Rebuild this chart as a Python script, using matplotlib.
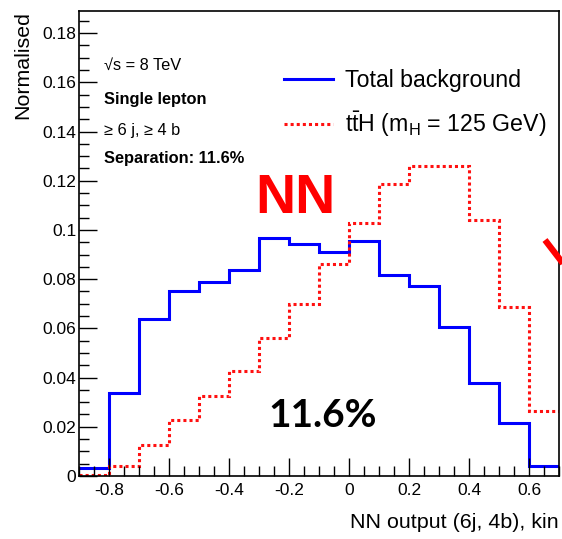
import matplotlib.pyplot as plt
import matplotlib.lines as mlines
import numpy as np

plt.rcParams["font.family"] = ["Liberation Sans", "DejaVu Sans"]
plt.rcParams["mathtext.fontset"] = "custom"
plt.rcParams["mathtext.rm"] = "Liberation Sans"
plt.rcParams["mathtext.it"] = "Liberation Sans:italic"

# ============================================================
# Data (bin edges and normalised contents)
# ============================================================
bin_edges = np.round(np.arange(-0.9, 0.71, 0.1), 2)
background = [0.0033, 0.0337, 0.0640, 0.0750, 0.0790, 0.0837, 0.0967, 0.0943,
              0.0910, 0.0955, 0.0817, 0.0772, 0.0606, 0.0378, 0.0215, 0.0041]
tth = [0.0004, 0.0040, 0.0126, 0.0228, 0.0325, 0.0427, 0.0561, 0.0700,
       0.0862, 0.1028, 0.1187, 0.1260, 0.1260, 0.1040, 0.0687, 0.0264]

labels = ["Total background", r"t$\bar{\mathrm{t}}$H (m$_{\mathrm{H}}$ = 125 GeV)"]
info_lines = ["√s = 8 TeV", "Single lepton", "≥ 6 j, ≥ 4 b", "Separation: 11.6%"]

fig = plt.figure(figsize=(5.62, 5.39), dpi=100)
ax = fig.add_axes([79 / 562, 1 - 476 / 539, 480 / 562, 465 / 539])

ax.stairs(background, bin_edges, baseline=None, color="#0000ff", linewidth=2.2,
          label=labels[0])
ax.stairs(tth, bin_edges, baseline=None, color="#ff1010", linewidth=2.2,
          linestyle=(0, (1, 1)), label=labels[1])

ax.set_xlim(-0.9, 0.7)
ax.set_ylim(0, 0.189)
ax.set_xticks(np.round(np.arange(-0.8, 0.61, 0.2), 1))
ax.set_xticklabels(["-0.8", "-0.6", "-0.4", "-0.2", "0", "0.2", "0.4", "0.6"])
ax.set_xticks(np.arange(-0.9, 0.71, 0.05), minor=True)
ax.set_yticks(np.round(np.arange(0, 0.181, 0.02), 2))
ax.set_yticklabels(["0", "0.02", "0.04", "0.06", "0.08", "0.1", "0.12",
                    "0.14", "0.16", "0.18"])
ax.set_yticks(np.arange(0, 0.189, 0.005), minor=True)
ax.tick_params(which="both", direction="in", top=False, right=False,
               labelsize=12.5, width=1)
ax.tick_params(which="major", length=13)
ax.tick_params(which="minor", length=7)
ax.tick_params(axis="x", which="major", pad=5)
ax.tick_params(axis="y", which="major", pad=2)
for s in ax.spines.values():
    s.set_linewidth(1.2)

ax.set_ylabel("Normalised", loc="top", fontsize=15.4, labelpad=7)
ax.set_xlabel("NN output (6j, 4b), kin", loc="right", fontsize=15.4, labelpad=11)

# info block
ys = [0.884, 0.809, 0.744, 0.682]
weights = ["normal", "bold", "normal", "bold"]
for txt, y, w in zip(info_lines, ys, weights):
    ax.text(0.052, y, txt, transform=ax.transAxes, fontsize=11.8,
            fontweight=w, va="center", ha="left")

leg = ax.legend(loc="upper left", bbox_to_anchor=(0.428, 0.876), frameon=False,
                fontsize=16.7, handlelength=2.1, handletextpad=0.5,
                labelspacing=0.78, borderpad=0, borderaxespad=0)

# overlaid annotations
ax.text(0.451, 0.596, "NN", transform=ax.transAxes, color="#ff0000",
        fontsize=40, fontweight="bold", ha="center", va="center")
ax.text(0.507, 0.131, "11.6%", transform=ax.transAxes, color="black",
        fontsize=28, fontweight="bold", ha="center", va="center",
        family=["Lato", "DejaVu Sans"])
fig.add_artist(mlines.Line2D([545 / 562, 575 / 562], [1 - 240 / 539, 1 - 279 / 539],
                             color="#ff0000", linewidth=4.5,
                             solid_capstyle="butt"))

fig.savefig("out.png", dpi=100)
